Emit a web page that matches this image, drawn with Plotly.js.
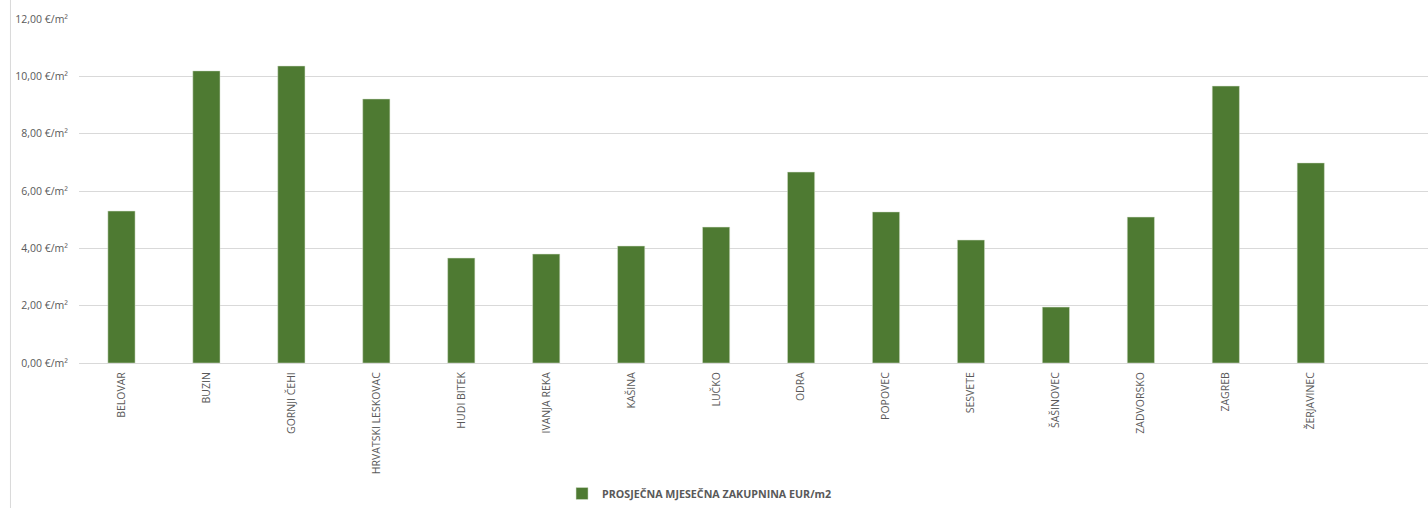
<!DOCTYPE html>
<html>
<head>
<meta charset="utf-8">
<script src="https://cdn.plot.ly/plotly-3.0.1.min.js"></script>
<style>html,body{margin:0;padding:0;background:#fff;}#chart{width:1428px;height:508px;}</style>
</head>
<body>
<div id="chart"></div>
<script>
const categories = ["BELOVAR","BUZIN","GORNJI ČEHI","HRVATSKI LESKOVAC","HUDI BITEK","IVANJA REKA","KAŠINA","LUČKO","ODRA","POPOVEC","SESVETE","ŠAŠINOVEC","ZADVORSKO","ZAGREB","ŽERJAVINEC"];
const values = [5.30,10.19,10.36,9.21,3.66,3.80,4.08,4.74,6.66,5.27,4.29,1.95,5.09,9.66,6.98];
const seriesName = "PROSJEČNA MJESEČNA ZAKUPNINA EUR/m2";
const yTicks = [0,2,4,6,8,10,12];
const yTickText = ["0,00 €/m²","2,00 €/m²","4,00 €/m²","6,00 €/m²","8,00 €/m²","10,00 €/m²","12,00 €/m²"];

const font = "'Open Sans', 'Liberation Sans', sans-serif";
Plotly.newPlot("chart", [{
  type: "bar",
  x: categories,
  y: values,
  name: seriesName,
  marker: {color: "#4E7A32", line: {color: "#d9e3d0", width: 0.5}},
  hoverinfo: "x+y"
}], {
  width: 1428, height: 508,
  margin: {l: 78.5, r: 0, t: 19, b: 145},
  paper_bgcolor: "#fff", plot_bgcolor: "#fff",
  bargap: 0.68,
  showlegend: true,
  legend: {orientation: "h", x: 0.460, xanchor: "center", y: -0.381, yanchor: "middle",
    itemwidth: 30, font: {family: font, size: 10.7, color: "#595959", weight: "bold"}},
  xaxis: {type: "category", range: [-0.5, 15.38], tickangle: -90, showgrid: false,
    showline: true, linecolor: "#d9d9d9", linewidth: 1, ticks: "", ticklabelstandoff: 4,
    tickfont: {family: font, size: 10.5, color: "#595959"}, fixedrange: true},
  yaxis: {range: [0, 12], tickmode: "array", tickvals: yTicks, ticktext: yTickText,
    showgrid: true, gridcolor: "#d9d9d9", gridwidth: 1, zeroline: false, showline: false,
    ticks: "", ticklabelstandoff: 10, tickfont: {family: font, size: 10.5, color: "#595959"}},
  shapes: [{type: "line", xref: "paper", yref: "paper", x0: -0.0508, x1: -0.0508, y0: -0.5, y1: 1.06,
    line: {color: "#d9d9d9", width: 1}}]
}, {displayModeBar: false});
</script>
</body>
</html>
